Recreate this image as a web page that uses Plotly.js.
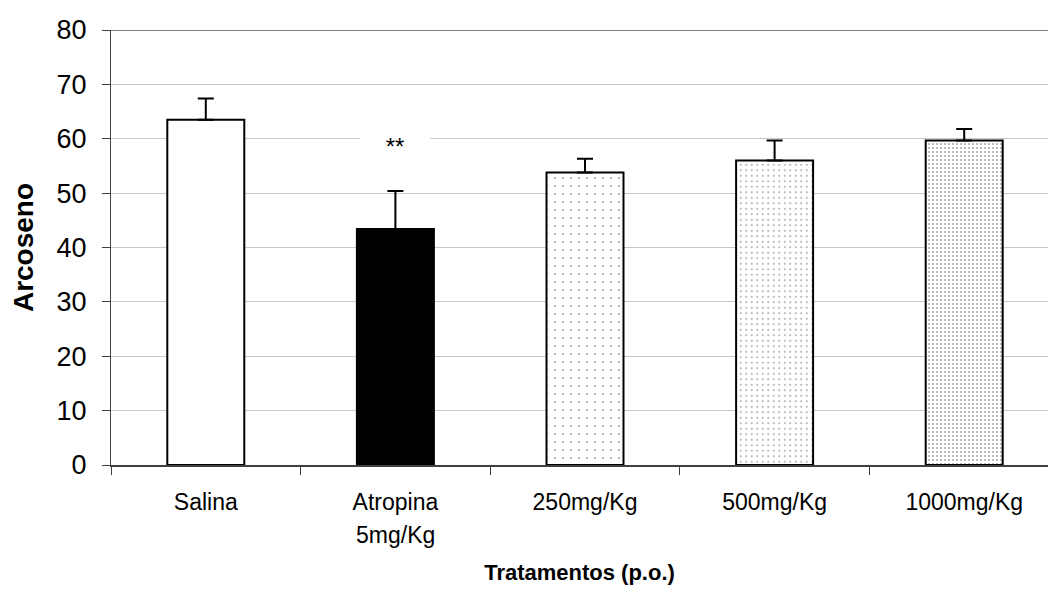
<!DOCTYPE html>
<html>
<head>
<meta charset="utf-8">
<script src="https://cdn.plot.ly/plotly-3.0.1.min.js"></script>
<style>
  html, body { margin: 0; padding: 0; background: #ffffff; }
  #chart { width: 1048px; height: 601px; }
</style>
</head>
<body>
<div id="chart"></div>
<script>
// Treatment groups (first line of each axis label)
const categories = ["Salina", "Atropina", "250mg/Kg", "500mg/Kg", "1000mg/Kg"];
// Second line shown under a label (only Atropina has one)
const subLabels = ["", "5mg/Kg", "", "", ""];
// Mean response per group
const means = [63.5, 43.4, 53.8, 56.0, 59.7];
// Upper error (SEM) per group
const errors = [3.9, 7.0, 2.5, 3.7, 2.1];
// Significance marks above the bars
const significance = ["", "**", "", "", ""];
const sigLevel = 58.6;

const FONT = "Liberation Sans, Arial, sans-serif";

const trace = {
  type: "bar",
  x: categories,
  y: means,
  width: 0.406,
  marker: {
    color: ["#ffffff", "#000000", "#ffffff", "#ffffff", "#ffffff"],
    line: { color: "#000000", width: 2 },
    pattern: {
      shape: ["", "", ".", ".", "."],
      size: [8, 8, 8, 5.5, 4],
      solidity: [0.05, 0.05, 0.05, 0.1, 0.17],
      fgcolor: "#333333",
      fillmode: "overlay"
    }
  },
  error_y: {
    type: "data",
    symmetric: false,
    array: errors,
    arrayminus: errors.map(() => 0),
    color: "#000000",
    thickness: 2,
    width: 8
  },
  hoverinfo: "skip"
};

const annotations = [];
categories.forEach((c, i) => {
  if (subLabels[i]) {
    annotations.push({
      x: c, xref: "x", y: 0, yref: "y",
      yshift: -70, text: subLabels[i], showarrow: false,
      font: { family: FONT, size: 23, color: "#000000" }
    });
  }
  if (significance[i]) {
    annotations.push({
      x: c, xref: "x", y: sigLevel, yref: "y",
      text: significance[i], showarrow: false,
      bgcolor: "#ffffff", width: 68, height: 26,
      font: { family: FONT, size: 24, color: "#000000" }
    });
  }
});

const layout = {
  width: 1048,
  height: 601,
  margin: { l: 111, r: 0, t: 30, b: 136 },
  paper_bgcolor: "#ffffff",
  plot_bgcolor: "#ffffff",
  showlegend: false,
  font: { family: FONT, color: "#000000" },
  xaxis: {
    type: "category",
    range: [-0.5, 4.442],
    showline: true,
    linecolor: "#404040",
    linewidth: 1.5,
    ticks: "outside",
    tickson: "boundaries",
    ticklen: 8,
    tickcolor: "#404040",
    ticklabelstandoff: 16,
    showgrid: false,
    tickfont: { family: FONT, size: 23, color: "#000000" },
    title: {
      text: "Tratamentos (p.o.)",
      font: { family: FONT, size: 22, color: "#000000", weight: "bold" },
      standoff: 50
    }
  },
  yaxis: {
    range: [0, 80],
    dtick: 10,
    showline: true,
    linecolor: "#404040",
    linewidth: 1,
    ticks: "outside",
    ticklen: 8,
    tickcolor: "#404040",
    ticklabelstandoff: 10,
    showgrid: true,
    gridcolor: "#c8c8c8",
    gridwidth: 1,
    zeroline: false,
    tickfont: { family: FONT, size: 27, color: "#000000" },
    title: {
      text: "Arcoseno",
      font: { family: FONT, size: 28, color: "#000000", weight: "bold" },
      standoff: 14
    }
  },
  shapes: [{
    type: "line", xref: "paper", yref: "y",
    x0: 0, x1: 1, y0: 80, y1: 80,
    line: { color: "#808080", width: 2 }
  }],
  annotations: annotations,
  bargap: 0.5
};

Plotly.newPlot("chart", [trace], layout, { displayModeBar: false, staticPlot: true });
</script>
</body>
</html>
